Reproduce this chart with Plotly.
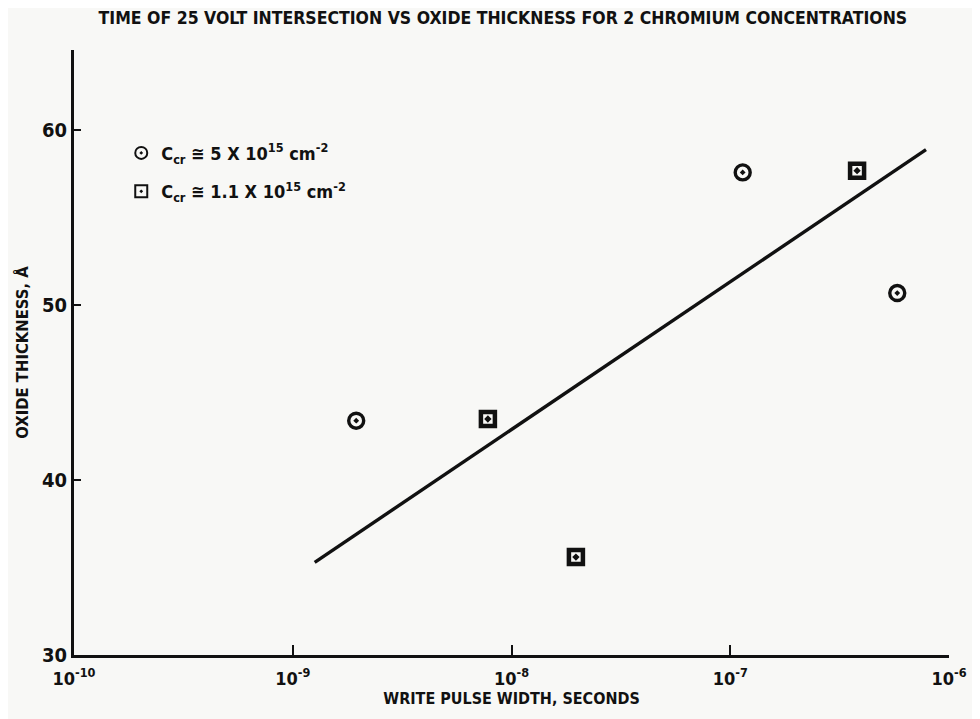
import plotly.graph_objects as go

# Data
circle_x = [1.95e-9, 1.14e-7, 5.8e-7]
circle_y = [43.4, 57.6, 50.7]
square_x = [7.8e-9, 1.97e-8, 3.8e-7]
square_y = [43.5, 35.6, 57.7]
fit_x = [1.26e-9, 7.85e-7]
fit_y = [35.3, 58.9]

x_tickvals = [1e-10, 1e-9, 1e-8, 1e-7, 1e-6]
x_ticktext = ["10<sup>-10</sup>", "10<sup>-9</sup>", "10<sup>-8</sup>", "10<sup>-7</sup>", "10<sup>-6</sup>"]
y_tickvals = [30, 40, 50, 60]

title_text = "TIME OF 25 VOLT INTERSECTION VS OXIDE THICKNESS FOR 2 CHROMIUM CONCENTRATIONS"
legend_circle = "C<sub>cr</sub> ≅ 5 X 10<sup>15</sup> cm<sup>-2</sup>"
legend_square = "C<sub>cr</sub> ≅ 1.1 X 10<sup>15</sup> cm<sup>-2</sup>"

FONT = "DejaVu Sans Condensed"
INK = "#111111"

fig = go.Figure()
fig.add_trace(go.Scatter(
    x=circle_x, y=circle_y, mode="markers", name=legend_circle, legendgroup="a",
    marker=dict(symbol="circle-open-dot", size=15, color=INK, line=dict(width=3.4, color=INK)),
))
fig.add_trace(go.Scatter(
    x=square_x, y=square_y, mode="markers", name=legend_square, legendgroup="b",
    marker=dict(symbol="square-open-dot", size=14, color=INK, line=dict(width=4.5, color=INK)),
))
fig.add_trace(go.Scatter(
    x=fit_x, y=fit_y, mode="lines", showlegend=False,
    line=dict(color=INK, width=3.4),
))

fig.update_layout(
    width=980, height=719,
    paper_bgcolor="#f8f8f6", plot_bgcolor="#f8f8f6",
    margin=dict(l=64, r=39, t=42, b=72),
    font=dict(family=FONT, color=INK, size=15, weight="bold"),
    title=dict(text=title_text, x=0.505, xanchor="center", y=0.986, yanchor="middle",
               font=dict(family=FONT, size=17.5, color=INK, weight="bold")),
    showlegend=True,
    legend=dict(x=0.054, y=0.86, xanchor="left", yanchor="top", bgcolor="rgba(0,0,0,0)",
                font=dict(family=FONT, size=18, color=INK, weight="bold"),
                tracegroupgap=12, itemsizing="constant"),
    xaxis=dict(
        type="log", range=[-10, -6],
        tickvals=x_tickvals, ticktext=x_ticktext,
        ticks="inside", ticklen=10, tickwidth=2, tickcolor=INK,
        showline=True, linecolor=INK, linewidth=3, mirror=False,
        showgrid=False, zeroline=False, ticklabelstandoff=5,
        tickfont=dict(family=FONT, size=18, color=INK, weight="bold"),
        title=dict(text="WRITE PULSE WIDTH, SECONDS", standoff=0,
                   font=dict(family=FONT, size=16, color=INK, weight="bold")),
    ),
    yaxis=dict(
        range=[30, 64.6],
        tickvals=y_tickvals,
        ticks="inside", ticklen=7, tickwidth=2, tickcolor=INK,
        showline=True, linecolor=INK, linewidth=3, mirror=False,
        showgrid=False, zeroline=False,
        tickfont=dict(family=FONT, size=20, color=INK, weight="bold"),
        title=dict(text="OXIDE THICKNESS, Å", standoff=10,
                   font=dict(family=FONT, size=16.5, color=INK, weight="bold")),
    ),
)

fig.write_html("out.html")
